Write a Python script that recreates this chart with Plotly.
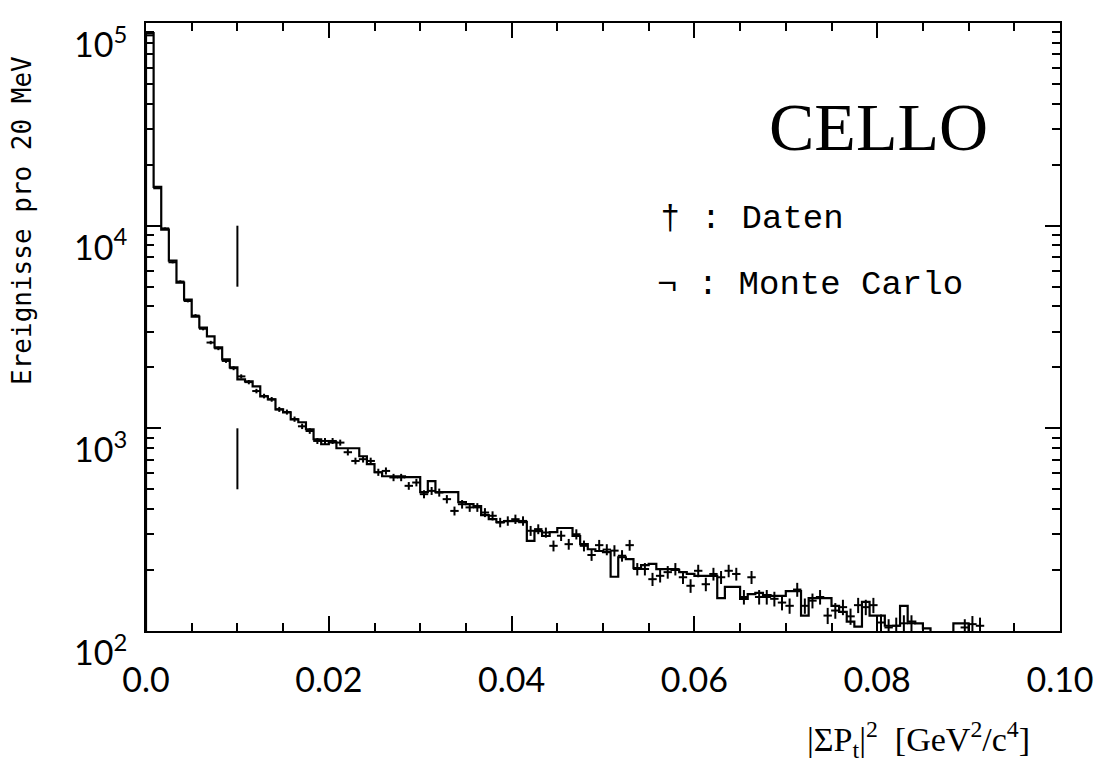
import numpy as np
import plotly.graph_objects as go

# ---------------- data ----------------
bin_width = 0.1 / 120          # GeV^2/c^4 per bin
n_bins = 120

# Monte Carlo histogram, events per bin (values < 100 lie below the axis)
mc_counts = [
    89270, 15560, 9557, 6722, 5239, 4320, 3562, 3145, 2840, 2506,
    2187, 1998, 1743, 1704, 1610, 1438, 1390, 1240, 1199, 1107,
    1071, 989, 883, 834, 853, 797, 797, 797, 728, 665,
    607, 580, 580, 580, 574, 574, 484, 548, 484, 484,
    484, 432, 422, 413, 373, 356, 344, 348, 348, 344,
    278, 311, 294, 307, 322, 322, 294, 268, 253, 248,
    245, 185, 231, 226, 204, 211, 214, 202, 202, 200,
    195, 191, 187, 187, 187, 145, 165, 165, 144, 152,
    154, 150, 149, 149, 157, 157, 119, 145, 145, 145,
    133, 124, 111, 105, 139, 119, 119, 106, 106, 133,
    111, 109, 103, 90, 90, 90, 109, 109, 90, 90,
    90, 90, 90, 90, 90, 90, 90, 90, 90, 90,
]

# Data (Daten), events per bin; None where nothing is visible
data_counts = [
    87000, 15300, 9700, 6600, 5300, 4250, 3600, 3100, 2650, 2480,
    2150, 1980, 1804, 1690, 1527, 1443, 1390, 1240, 1203, 1110,
    1023, 970, 866, 866, 866, 850, 762, 690, 704, 690,
    607, 616, 572, 572, 520, 540, 473, 491, 482, 447,
    391, 422, 407, 407, 384, 370, 343, 349, 356, 349,
    312, 318, 306, 263, 295, 268, 300, 263, 237, 265,
    252, 249, 235, 265, 202, 202, 180, 187, 195, 202,
    184, 167, 198, 170, 191, 184, 198, 191, 147, 184,
    147, 147, 144, 138, 133, 160, 133, 141, 147, 119,
    126, 131, 118, 134, 131, 134, 110, 104, 106, 109,
    109, None, None, None, None, None, None, 104, 108, 106,
    None, None, None, None, None, None, None, None, None, None,
]

# vertical cut markers at |SumPt|^2 = 0.01
cut_x = 0.01
cut_segments = [(5000, 10000), (500, 1000)]

x_tick_vals = [0.0, 0.02, 0.04, 0.06, 0.08, 0.10]
x_tick_text = ["0.0", "0.02", "0.04", "0.06", "0.08", "0.10"]
y_tick_vals = [1e2, 1e3, 1e4, 1e5]
y_exponents = ["2", "3", "4", "5"]

# ---------------- build traces ----------------
edges = np.arange(n_bins + 1) * bin_width
centers = (edges[:-1] + edges[1:]) / 2

step_x = [0.0] + list(edges[:-1]) + [edges[-1]]
step_y = [90] + list(mc_counts) + [mc_counts[-1]]

dx = [c for c, v in zip(centers, data_counts) if v is not None]
dy = [v for v in data_counts if v is not None]
derr = [np.sqrt(v) for v in dy]

fig = go.Figure()
fig.add_trace(go.Scatter(
    x=step_x, y=step_y, mode="lines", line=dict(shape="hv", color="black", width=2.2),
    hoverinfo="skip", showlegend=False))
fig.add_trace(go.Scatter(
    x=dx, y=dy, mode="markers",
    marker=dict(symbol="line-ew", size=6, line=dict(color="black", width=2), color="black"),
    error_y=dict(type="data", array=derr, visible=True, color="black", thickness=2, width=0),
    showlegend=False))

for lo, hi in cut_segments:
    fig.add_shape(type="line", xref="x", yref="y", x0=cut_x, x1=cut_x, y0=lo, y1=hi,
                  line=dict(color="black", width=2))

mono = "Liberation Mono"
# a small blank line above each y label pushes "10" slightly below its tick, as in the original
y_tick_text = ["<span style='font-size:14px'> </span><br>10<sup>%s</sup>" % e for e in y_exponents]

fig.update_layout(
    width=1103, height=775,
    margin=dict(l=146, r=43, t=23, b=144, autoexpand=False),
    paper_bgcolor="white", plot_bgcolor="white",
    xaxis=dict(
        range=[0, 0.1], tickvals=x_tick_vals, ticktext=x_tick_text,
        ticks="inside", ticklen=15, tickwidth=2, tickcolor="black",
        minor=dict(dtick=0.005, tick0=0, ticks="inside", ticklen=8, tickwidth=2,
                   tickcolor="black", showgrid=False),
        showline=True, linewidth=2, linecolor="black", mirror="allticks",
        showgrid=False, zeroline=False, automargin=False,
        tickfont=dict(family="Lato", size=34, color="black"), ticklabelstandoff=18),
    yaxis=dict(
        type="log", range=[1.9995, 5.0005], tickvals=y_tick_vals, ticktext=y_tick_text,
        ticks="inside", ticklen=15, tickwidth=2, tickcolor="black",
        minor=dict(tickvals=[m * 10 ** d for d in (2, 3, 4) for m in range(2, 10)],
                   ticks="inside", ticklen=8, tickwidth=2, tickcolor="black",
                   showgrid=False),
        showline=True, linewidth=2, linecolor="black", mirror="allticks",
        showgrid=False, zeroline=False, ticklabeloverflow="allow", automargin=False,
        tickfont=dict(family="Lato", size=34, color="black"), ticklabelstandoff=10),
)

fig.add_annotation(text="CELLO", xref="paper", yref="paper", x=0.801, y=0.829,
                   showarrow=False, font=dict(family="Liberation Serif", size=68, color="black"),
                   xanchor="center", yanchor="middle")
fig.add_annotation(text="\u2020 : Daten", xref="paper", yref="paper", x=0.560, y=0.678,
                   showarrow=False, font=dict(family=mono, size=34, color="black"),
                   xanchor="left", yanchor="middle")
fig.add_annotation(text="\u00ac : Monte Carlo", xref="paper", yref="paper", x=0.557, y=0.569,
                   showarrow=False, font=dict(family=mono, size=34, color="black"),
                   xanchor="left", yanchor="middle")
fig.add_annotation(text="Ereignisse pro 20 MeV", xref="paper", yref="paper",
                   x=-0.1357, y=0.676, textangle=-90, showarrow=False,
                   font=dict(family="DejaVu Sans Mono", size=26, color="black"),
                   xanchor="center", yanchor="middle")
fig.add_annotation(text="|\u03a3P<sub>t</sub>|<sup>2</sup>  [GeV<sup>2</sup>/c<sup>4</sup>]",
                   xref="paper", yref="paper", x=0.969, y=-0.179, showarrow=False,
                   font=dict(family="Liberation Serif", size=34, color="black"),
                   xanchor="right", yanchor="middle")

fig.write_html("out.html")
